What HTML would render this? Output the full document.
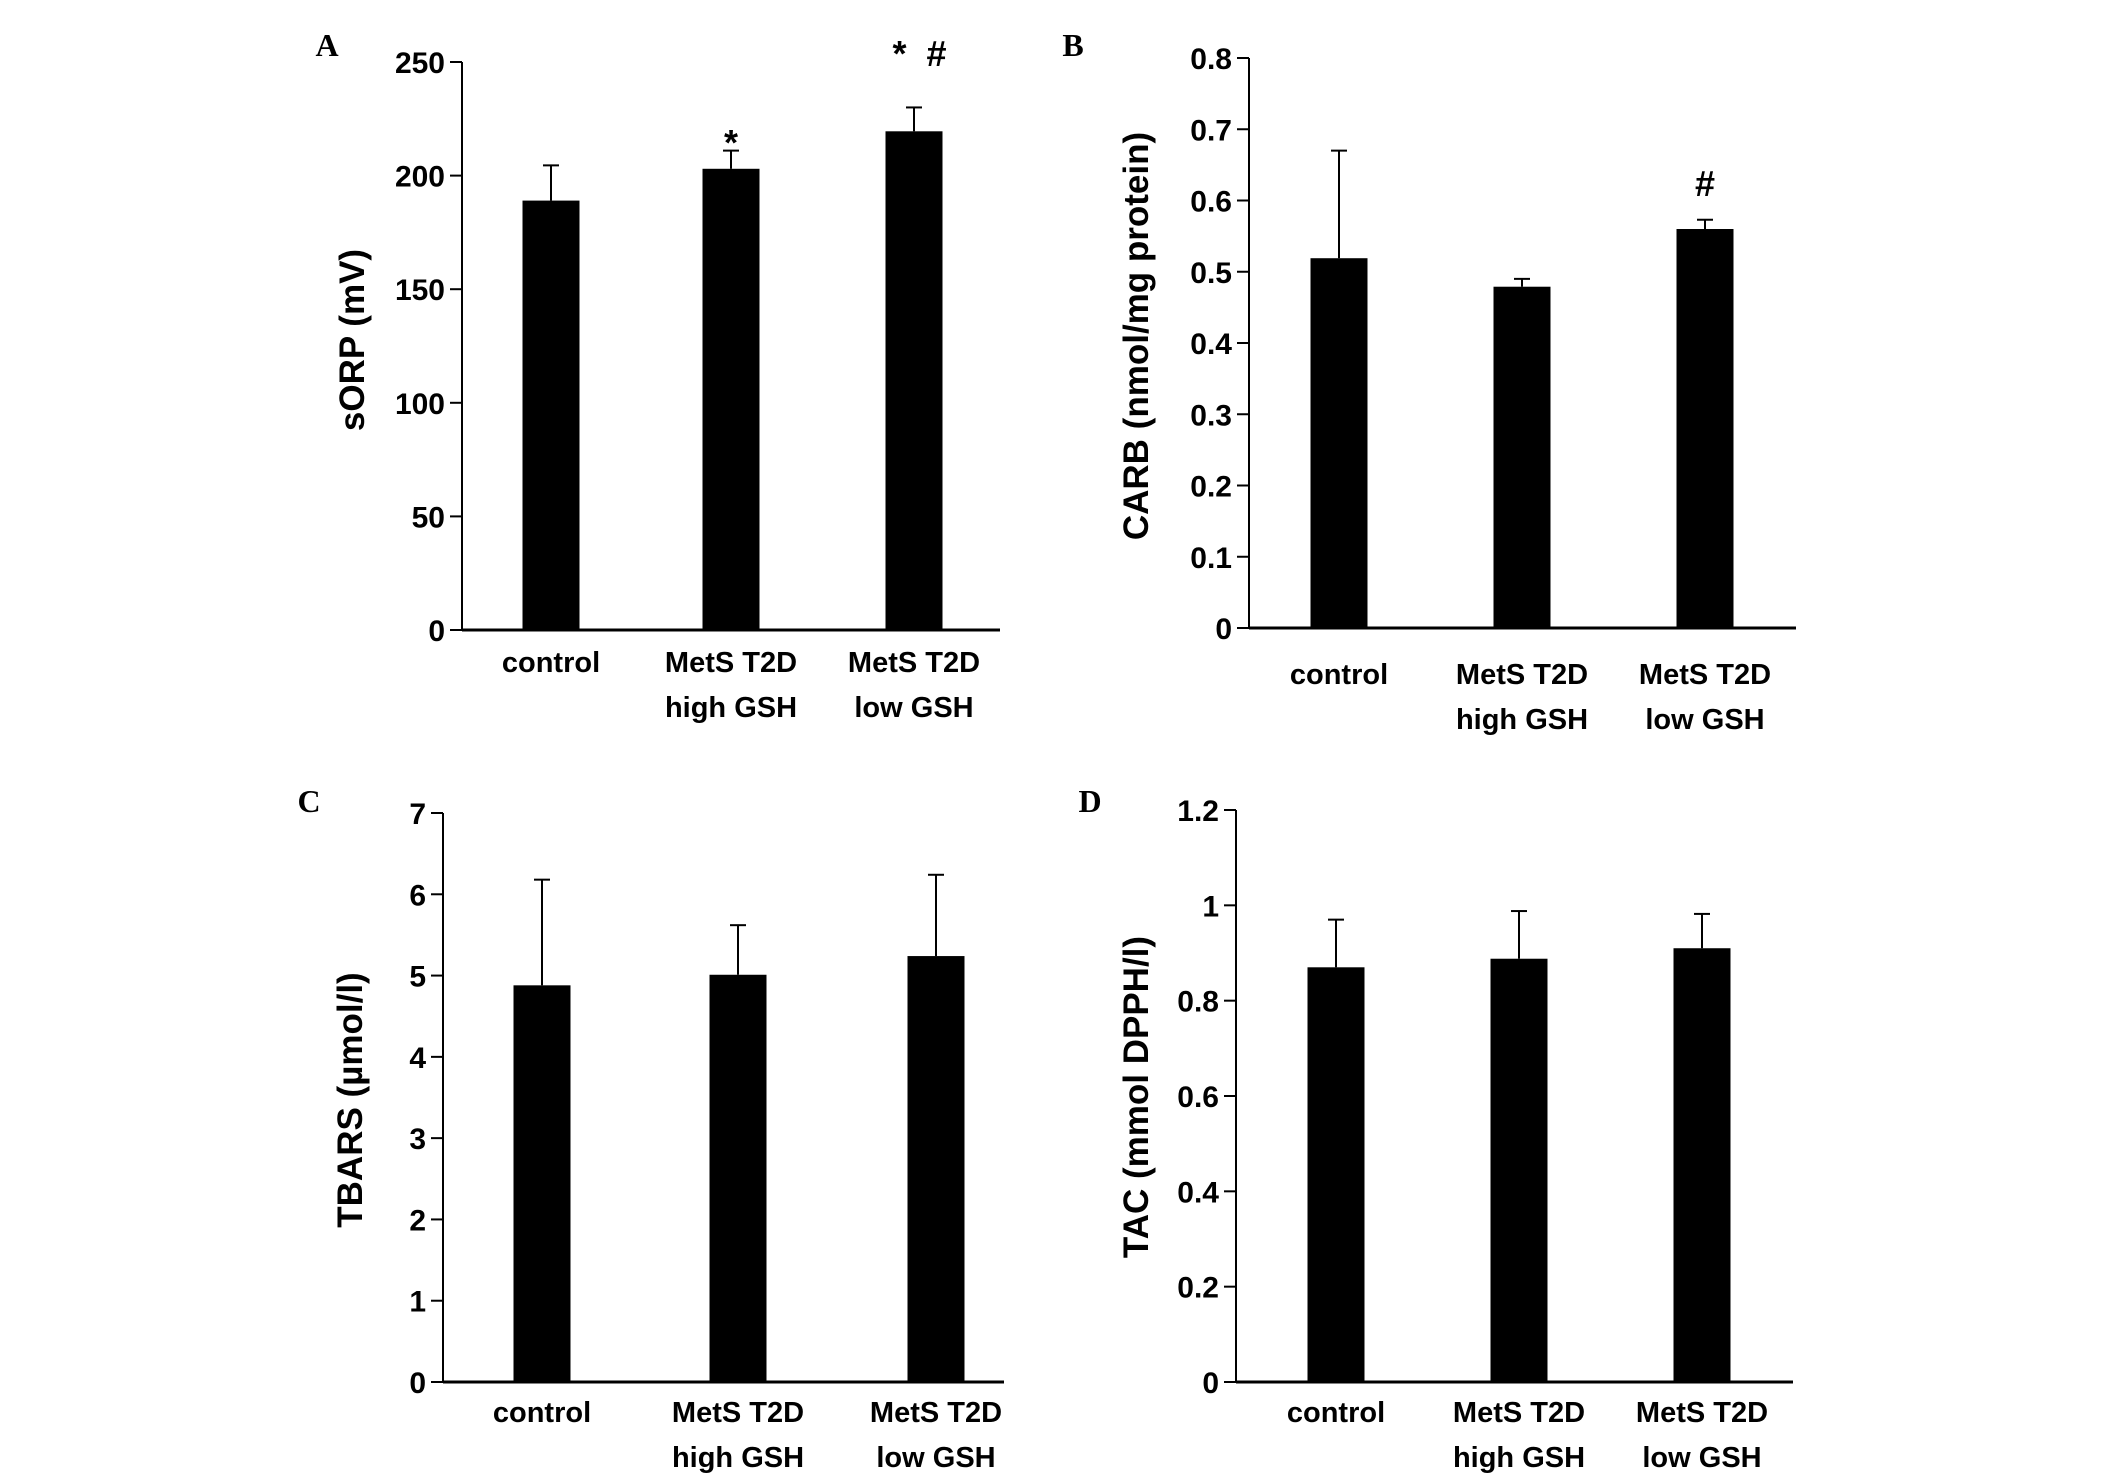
<!DOCTYPE html>
<html><head><meta charset="utf-8"><style>
html,body{margin:0;padding:0;background:#fff;}
svg{display:block;}
text{font-family:"Liberation Sans",sans-serif;font-weight:bold;fill:#000;}
.letter{font-family:"Liberation Serif",serif;font-size:32px;}
</style></head><body>
<svg id="fig" width="2126" height="1483" viewBox="0 0 2126 1483" xmlns="http://www.w3.org/2000/svg"></svg>
<script>
const categories = [["control"], ["MetS T2D", "high GSH"], ["MetS T2D", "low GSH"]];
// Panel A
const sorpValues = [189, 203, 219.5];
const sorpErrors = [15.5, 8, 10.5];
const sorpTicks = [0, 50, 100, 150, 200, 250];
const sorpMarks = ["", "*", "* #"];
// Panel B
const carbValues = [0.519, 0.479, 0.560];
const carbErrors = [0.151, 0.011, 0.013];
const carbTicks = [0, 0.1, 0.2, 0.3, 0.4, 0.5, 0.6, 0.7, 0.8];
const carbMarks = ["", "", "#"];
// Panel C
const tbarsValues = [4.88, 5.01, 5.24];
const tbarsErrors = [1.30, 0.61, 1.00];
const tbarsTicks = [0, 1, 2, 3, 4, 5, 6, 7];
// Panel D
const tacValues = [0.87, 0.888, 0.91];
const tacErrors = [0.10, 0.10, 0.072];
const tacTicks = [0, 0.2, 0.4, 0.6, 0.8, 1, 1.2];
const tacTickLabels = ["0", "0.2", "0.4", "0.6", "0.8", "1", "1.2"];

const NS = "http://www.w3.org/2000/svg";
const svg = document.getElementById("fig");
function mk(tag, attrs, parent) {
  const e = document.createElementNS(NS, tag);
  for (const k in attrs) e.setAttribute(k, attrs[k]);
  (parent || svg).appendChild(e);
  return e;
}

const panels = [
  {id:"a", letter:"A", lx:327, ly:56, ax:462, y0:630, yTop:62, xEnd:1000, bars:[551,731,914], max:250,
   values:sorpValues, errors:sorpErrors, ticks:sorpTicks, labels:sorpTicks.map(String), marks:sorpMarks, markY:[0,155,66],
   title:"sORP (mV)", tx:352, ty:340, cy:[662,707]},
  {id:"b", letter:"B", lx:1073, ly:56, ax:1249, y0:628, yTop:58, xEnd:1796, bars:[1339,1522,1705], max:0.8,
   values:carbValues, errors:carbErrors, ticks:carbTicks, labels:carbTicks.map(v=>v===0?"0":v.toFixed(1)), marks:carbMarks, markY:[0,0,196],
   title:"CARB (nmol/mg protein)", tx:1136, ty:336, cy:[674,719]},
  {id:"c", letter:"C", lx:309, ly:812, ax:443, y0:1382, yTop:813, xEnd:1004, bars:[542,738,936], max:7,
   values:tbarsValues, errors:tbarsErrors, ticks:tbarsTicks, labels:tbarsTicks.map(String), marks:["","",""], markY:[0,0,0],
   title:"TBARS (µmol/l)", tx:350, ty:1100, cy:[1412,1457]},
  {id:"d", letter:"D", lx:1090, ly:812, ax:1236, y0:1382, yTop:810, xEnd:1793, bars:[1336,1519,1702], max:1.2,
   values:tacValues, errors:tacErrors, ticks:tacTicks, labels:tacTickLabels, marks:["","",""], markY:[0,0,0],
   title:"TAC (mmol DPPH/l)", tx:1136, ty:1097, cy:[1412,1457]}
];

panels.forEach(p => {
  const g = mk("g", {});
  
  
  const yS = v => p.y0 - (v / p.max) * (p.y0 - p.yTop);

  const L = mk("text", {x:p.lx, y:p.ly, "text-anchor":"middle", class:"letter"}, g);
  L.textContent = p.letter;
  
  

  const ya = mk("line", {x1:p.ax, y1:yS(p.max), x2:p.ax, y2:p.y0, stroke:"#000", "stroke-width":2}, g);
  
  
  const xa = mk("line", {x1:p.ax, y1:p.y0, x2:p.xEnd, y2:p.y0, stroke:"#000", "stroke-width":3}, g);
  
  

  p.ticks.forEach((t, i) => {
    const y = yS(t);
    const tk = mk("line", {x1:p.ax - 12, y1:y, x2:p.ax, y2:y, stroke:"#000", "stroke-width":2}, g);
    
    
    const tl = mk("text", {x:p.ax - 17, y:y + 11, "text-anchor":"end", "font-size":30}, g);
    tl.textContent = p.labels[i];
    
    
  });

  const tt = mk("text", {x:0, y:0, "text-anchor":"middle", "font-size":35,
    transform:`translate(${p.tx},${p.ty}) rotate(-90)`, dy:12}, g);
  tt.textContent = p.title;
  
  

  p.values.forEach((v, i) => {
    const cx = p.bars[i], w = 57;
    const top = yS(v), etop = yS(v + p.errors[i]);
    const el = mk("line", {x1:cx, y1:top, x2:cx, y2:etop, stroke:"#000", "stroke-width":2}, g);
    
    
    const cap = mk("line", {x1:cx - 8, y1:etop, x2:cx + 8, y2:etop, stroke:"#000", "stroke-width":2}, g);
    
    
    const r = mk("rect", {x:cx - w/2, y:top, width:w, height:p.y0 - top, fill:"#000"}, g);
    
    
    if (p.marks[i]) {
      const m = mk("text", {x:cx + (p.marks[i].length > 1 ? 8 : 0), y:p.markY[i], "text-anchor":"middle", "font-size":36, "letter-spacing":(p.marks[i].length > 1 ? 5 : 0)}, g);
      m.textContent = p.marks[i];
      
      
    }
    categories[i].forEach((line, j) => {
      const c = mk("text", {x:cx, y:p.cy[j] + 10, "text-anchor":"middle", "font-size":29}, g);
      c.textContent = line;
      
      
    });
  });
});
</script>
</body></html>
